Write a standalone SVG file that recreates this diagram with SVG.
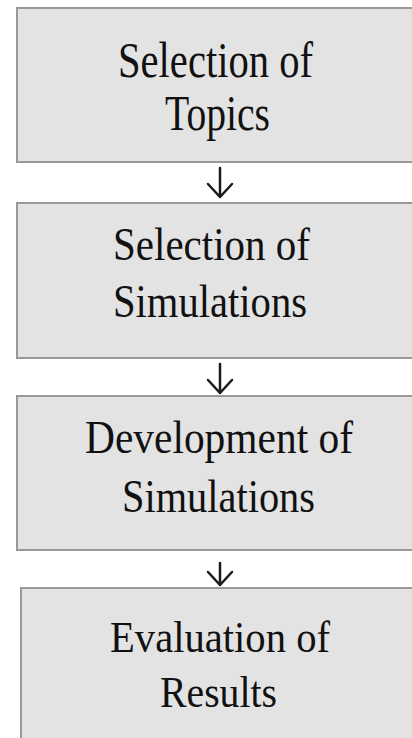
<svg xmlns="http://www.w3.org/2000/svg" width="412" height="738" viewBox="0 0 412 738">
<style>
.box{fill:#e3e3e3;stroke:#999;stroke-width:2}
.t{font-family:"Liberation Serif","Times New Roman",serif;fill:#111}
.arr{fill:none;stroke:#1a1a1a;stroke-width:2.5;stroke-linecap:round;stroke-linejoin:round}
</style>
<rect width="412" height="738" fill="#ffffff"/>
<g id="node1">
<rect class="box" x="17" y="8" width="405" height="154"/>
<text class="t" font-size="50" x="118" y="77" textLength="195" lengthAdjust="spacingAndGlyphs">Selection of</text>
<text class="t" font-size="50" x="165" y="130" textLength="105" lengthAdjust="spacingAndGlyphs">Topics</text>
</g>
<g id="node2">
<rect class="box" x="17" y="203" width="405" height="155"/>
<text class="t" font-size="47" x="113" y="260" textLength="197" lengthAdjust="spacingAndGlyphs">Selection of</text>
<text class="t" font-size="47" x="113" y="317" textLength="194" lengthAdjust="spacingAndGlyphs">Simulations</text>
</g>
<g id="node3">
<rect class="box" x="17" y="396" width="405" height="154"/>
<text class="t" font-size="47" x="85" y="453" textLength="268" lengthAdjust="spacingAndGlyphs">Development of</text>
<text class="t" font-size="47" x="122" y="512" textLength="193" lengthAdjust="spacingAndGlyphs">Simulations</text>
</g>
<g id="node4">
<rect class="box" x="21" y="588" width="401" height="200"/>
<text class="t" font-size="44" x="110" y="652" textLength="220" lengthAdjust="spacingAndGlyphs">Evaluation of</text>
<text class="t" font-size="44" x="160" y="707" textLength="117" lengthAdjust="spacingAndGlyphs">Results</text>
</g>
<g id="connectors">
<path class="arr" d="M220 168 V197 M208 184 L220 197 L232 184"/>
<path class="arr" d="M220 364 V393 M208 380 L220 393 L232 380"/>
<path class="arr" d="M220 563 V585 M208 572 L220 585 L232 572"/>
</g>
</svg>
